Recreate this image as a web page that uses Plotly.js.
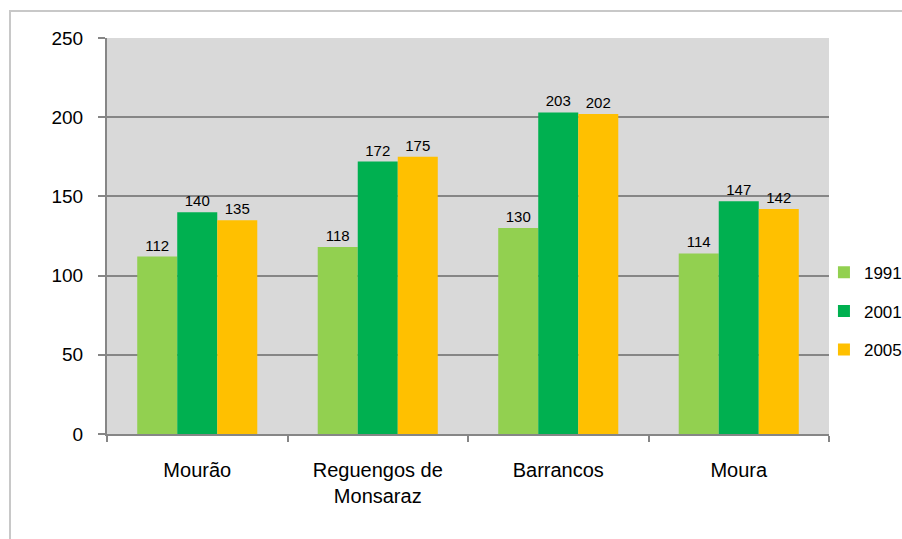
<!DOCTYPE html>
<html>
<head>
<meta charset="utf-8">
<script src="https://cdn.plot.ly/plotly-3.0.1.min.js"></script>
<style>
  html, body { margin: 0; padding: 0; background: #ffffff; }
  #chart { width: 902px; height: 539px; }
</style>
</head>
<body>
<div id="chart"></div>
<script>
// Municipalities shown on the category axis
const municipios = ["Mourão", "Reguengos de<br>Monsaraz", "Barrancos", "Moura"];

// Values per year
const anos = ["1991", "2001", "2005"];
const valores1991 = [112, 118, 130, 114];
const valores2001 = [140, 172, 203, 147];
const valores2005 = [135, 175, 202, 142];

const cores = ["#92d050", "#00b050", "#ffc000"];
const series = [valores1991, valores2001, valores2005];

const FONT = '"Liberation Sans", Arial, sans-serif';

const traces = series.map((vals, i) => ({
  type: "bar",
  name: anos[i],
  x: municipios,
  y: vals,
  legendgroup: "g" + i,
  marker: { color: cores[i], line: { width: 0 } },
  text: vals.map(String),
  textposition: "outside",
  cliponaxis: false,
  textfont: { family: FONT, size: 15, color: "#000000" },
  hoverinfo: "x+y+name"
}));

// Light grey frame around the chart area (top and left edges)
const px = v => (v - 107) / 722;
const py = v => (434 - v) / 396;

const layout = {
  width: 902,
  height: 539,
  margin: { l: 107, r: 73, t: 38, b: 105, autoexpand: false },
  paper_bgcolor: "#ffffff",
  plot_bgcolor: "#d9d9d9",
  font: { family: FONT, color: "#000000", size: 19 },
  barmode: "group",
  bargap: 0.335,
  bargroupgap: 0,
  showlegend: true,
  legend: {
    x: 0.993, xanchor: "left",
    y: 0.31, yanchor: "middle",
    bgcolor: "rgba(0,0,0,0)",
    font: { family: FONT, size: 17, color: "#000000" },
    tracegroupgap: 13.5,
    itemwidth: 30
  },
  xaxis: {
    showgrid: false,
    showline: true,
    linecolor: "#868686",
    linewidth: 2,
    ticks: "outside",
    tickson: "boundaries",
    ticklen: 6,
    tickwidth: 2,
    tickcolor: "#868686",
    ticklabelstandoff: 17,
    tickfont: { family: FONT, size: 20, color: "#000000" },
    zeroline: false
  },
  yaxis: {
    range: [0, 250],
    tickvals: [0, 50, 100, 150, 200, 250],
    showgrid: true,
    gridcolor: "#868686",
    gridwidth: 2,
    showline: true,
    linecolor: "#868686",
    linewidth: 2,
    ticks: "outside",
    ticklen: 7,
    tickwidth: 2,
    tickcolor: "#868686",
    ticklabelstandoff: 11,
    tickfont: { family: FONT, size: 19, color: "#000000" },
    zeroline: false
  },
  shapes: [
    { type: "line", xref: "paper", yref: "paper", x0: px(10), x1: px(905), y0: py(11), y1: py(11),
      line: { color: "#c8c8c8", width: 2 } },
    { type: "line", xref: "paper", yref: "paper", x0: px(10), x1: px(10), y0: py(10), y1: py(545),
      line: { color: "#c8c8c8", width: 2 } }
  ]
};

Plotly.newPlot("chart", traces, layout, { displayModeBar: false, staticPlot: true });
</script>
</body>
</html>
